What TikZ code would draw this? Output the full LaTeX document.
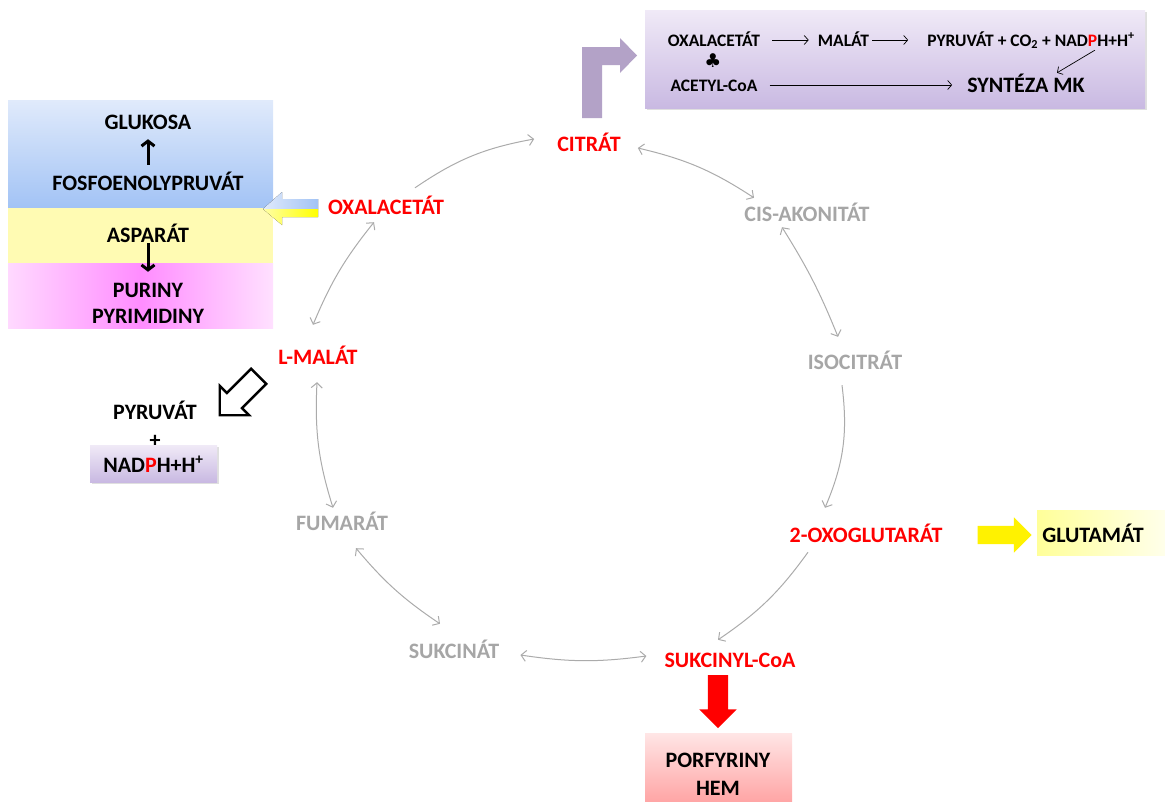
\documentclass[tikz,border=0pt]{standalone}
\usepackage{fontspec}
\setmainfont{Carlito}
\newfontfamily\symfont{DejaVu Sans}
\usetikzlibrary{arrows.meta,shapes.arrows,shadows}
\definecolor{tcared}{HTML}{FF0000}
\definecolor{tcagray}{HTML}{A6A6A6}
\definecolor{tcaline}{HTML}{ABABAB}
\definecolor{lila}{HTML}{B3A2C7}
\definecolor{lilatop}{HTML}{F0EAF7}
\definecolor{lilabot}{HTML}{C9B9E2}
\definecolor{modrytop}{HTML}{E0EAFB}
\definecolor{modrybot}{HTML}{A2C3F5}
\tikzstyle{metab} = [font=\fontsize{22}{26}\selectfont\bfseries, inner sep=3pt, text height=14pt, text depth=0pt]
\tikzstyle{hlavni} = [metab, text=tcared]
\tikzstyle{vedlejsi} = [metab, text=tcagray]
\tikzstyle{maly} = [font=\fontsize{17.5}{20}\selectfont\bfseries, inner sep=2pt, text height=12pt, text depth=0pt]
\tikzstyle{cyk} = [draw=tcaline, line width=1pt, -{Straight Barb[length=5pt,width=11pt]}]
\tikzstyle{cykobou} = [cyk, {Straight Barb[length=5pt,width=11pt]}-{Straight Barb[length=5pt,width=11pt]}]
\tikzstyle{sipka} = [draw=black, line width=0.7pt, -{Straight Barb[length=4pt,width=9pt]}]
\tikzstyle{tlusta} = [draw=black, line width=3pt, -{Straight Barb[length=5pt,width=13pt]}]
\tikzstyle{lilabox} = [top color=lilatop, bottom color=lilabot, inner sep=0pt, drop shadow={opacity=0.25, shadow xshift=2pt, shadow yshift=-2pt}]
\tikzstyle{blok} = [single arrow, inner xsep=0pt, single arrow head indent=0pt, single arrow tip angle=90]
\newcommand{\redP}{\textcolor{tcared}{P}}
\newcommand{\hplus}{H\textsuperscript{+}}

\begin{document}
\begin{tikzpicture}[x=1pt, y=-1pt]%
\useasboundingbox (0,0) rectangle (1165,801);%
% syntéza MK
\fill[lila] (582,118) -- (582,47) -- (620,47) -- (620,38) -- (637,55.5) -- (620,73) -- (620,65) -- (602,65) -- (602,118) -- cycle;%
\node[lilabox, minimum width=500pt, minimum height=98pt] (mkbox) at (895,59) {};%
\node[maly] (oxtop) at (714,40) {OXALACETÁT};%
\node[maly] (maltop) at (843.5,40) {MALÁT};%
\node[maly] (pyrtop) at (1031,40) {PYRUVÁT + CO\textsubscript{2} + NAD\redP{}H+\hplus};%
\node[font=\symfont\fontsize{19}{19}\selectfont, inner sep=0pt] (plus) at (713,61) {♣};%
\node[maly] (acetop) at (714,85) {ACETYL-CoA};%
\node[metab] (synt) at (1026,85) {SYNTÉZA MK};%
\draw[sipka] ([xshift=10pt]oxtop.east) -- ([xshift=-7pt]maltop.west);%
\draw[sipka] ([xshift=1pt]maltop.east) -- ([xshift=-17pt]pyrtop.west);%
\draw[sipka] ([xshift=10pt]acetop.east) -- ([xshift=-12pt]synt.west);%
\draw[sipka] ([xshift=-42pt,yshift=-2pt]pyrtop.south east) -- ([xshift=31pt,yshift=2pt]synt.north);%
% levý blok
\node[top color=modrytop, bottom color=modrybot, minimum width=265pt, minimum height=108pt, anchor=north west, inner sep=0pt] (glukbox) at (8,100) {};%
\node[fill=yellow!30, minimum width=265pt, minimum height=55pt, anchor=north west, inner sep=0pt] (aspbox) at (8,208) {};%
\node[left color=magenta!15, right color=magenta!12, middle color=magenta!45, minimum width=265pt, minimum height=65pt, anchor=north west, inner sep=0pt] (purbox) at (8,263) {};%
\node[metab] (gluk) at (148,122) {GLUKOSA};%
\node[metab] (fosf) at (148,183) {FOSFOENOLYPRUVÁT};%
\node[metab] (aspa) at (148,235) {ASPARÁT};%
\node[metab] (puri) at (148,290) {PURINY};%
\node[metab] (pyri) at (148,316) {PYRIMIDINY};%
\draw[tlusta, shorten <=8pt, shorten >=7pt] (fosf.north) -- (gluk.south);%
\draw[tlusta, shorten <=-2pt, shorten >=8pt] (aspa.south) -- (puri.north);%
\fill[left color=modrytop, right color=modrybot] (318,199) -- (282,199) -- (282,192) -- (263,209) -- (318,209) -- cycle;%
\fill[left color=yellow!35, right color=yellow] (318,209) -- (263,209) -- (282,225) -- (282,217) -- (318,217) -- cycle;%
% cyklus
\node[hlavni] (citr) at (589,144) {CITRÁT};%
\node[vedlejsi] (cis) at (807,214) {CIS-AKONITÁT};%
\node[vedlejsi] (iso) at (855,362) {ISOCITRÁT};%
\node[hlavni] (oxo) at (866,535) {2-OXOGLUTARÁT};%
\node[hlavni] (suk) at (730,660) {SUKCINYL-CoA};%
\node[vedlejsi] (sukc) at (454,651) {SUKCINÁT};%
\node[vedlejsi] (fum) at (342,523) {FUMARÁT};%
\node[hlavni] (mal) at (318,357) {L-MALÁT};%
\node[hlavni] (oxal) at (386,207) {OXALACETÁT};%
\draw[cyk] ([xshift=29pt,yshift=9pt]oxal.north) to[bend left=12] ([xshift=-20pt,yshift=5pt]citr.west);%
\draw[cykobou] ([xshift=14pt,yshift=-4pt]citr.east) to[bend left=10] ([xshift=-53pt,yshift=6pt]cis.north);%
\draw[cykobou] ([xshift=-25pt,yshift=-3pt]cis.south) to[bend left=5] ([xshift=-17pt,yshift=15pt]iso.north);%
\draw[cyk] ([xshift=-13pt,yshift=-13pt]iso.south) to[bend left=15] ([xshift=-41pt,yshift=17pt]oxo.north);%
\draw[cyk] ([xshift=-58pt,yshift=-7pt]oxo.south) to[bend left=10] ([xshift=-12pt,yshift=10pt]suk.north);%
\draw[cykobou] ([xshift=18pt,yshift=-4pt]sukc.east) to[bend right=8] ([xshift=-15pt,yshift=4pt]suk.west);%
\draw[cykobou] ([xshift=14pt,yshift=-15pt]fum.south) to[bend right=8] ([xshift=-14pt,yshift=17pt]sukc.north);%
\draw[cykobou] ([xshift=-1pt,yshift=-15pt]mal.south) to[bend right=10] ([xshift=-9pt,yshift=5pt]fum.north);%
\draw[cykobou] ([xshift=-12pt,yshift=-5pt]oxal.south) to[bend right=8] ([xshift=-5pt,yshift=22pt]mal.north);%
% odbočky
\node[blok, draw=black, line width=2.4pt, fill=white, rotate=225, minimum height=55pt, inner ysep=9.5pt, single arrow head extend=10pt] (pyrsip) at (243,392) {};%
\node[metab] (pyr) at (155,412) {PYRUVÁT};%
\node[metab] (plusb) at (155,440) {+};%
\node[lilabox, minimum width=127pt, minimum height=37pt] (nadbox) at (153.5,463.5) {};%
\node[metab] (nad) at (153.5,465) {NAD\redP{}H+\hplus};%
\node[blok, fill=yellow, minimum height=54pt, inner ysep=9pt, single arrow head extend=8.5pt] (glutsip) at (1000,535) {};%
\node[left color=yellow!40, right color=yellow!8, minimum width=128pt, minimum height=45pt, anchor=west, inner sep=0pt] (glutbox) at (1037,532.5) {};%
\node[metab] (glut) at (1093,535) {GLUTAMÁT};%
\node[blok, fill=tcared, rotate=-90, minimum height=53pt, inner ysep=10pt, single arrow head extend=8.5pt] (hemsip) at (718,696.5) {};%
\node[top color=red!10, bottom color=red!35, minimum width=147pt, minimum height=68pt, inner sep=0pt] (porfbox) at (718.5,767) {};%
\node[metab] (porf) at (718,760) {PORFYRINY};%
\node[metab] (hem) at (718,788) {HEM};%
\end{tikzpicture}
\end{document}
